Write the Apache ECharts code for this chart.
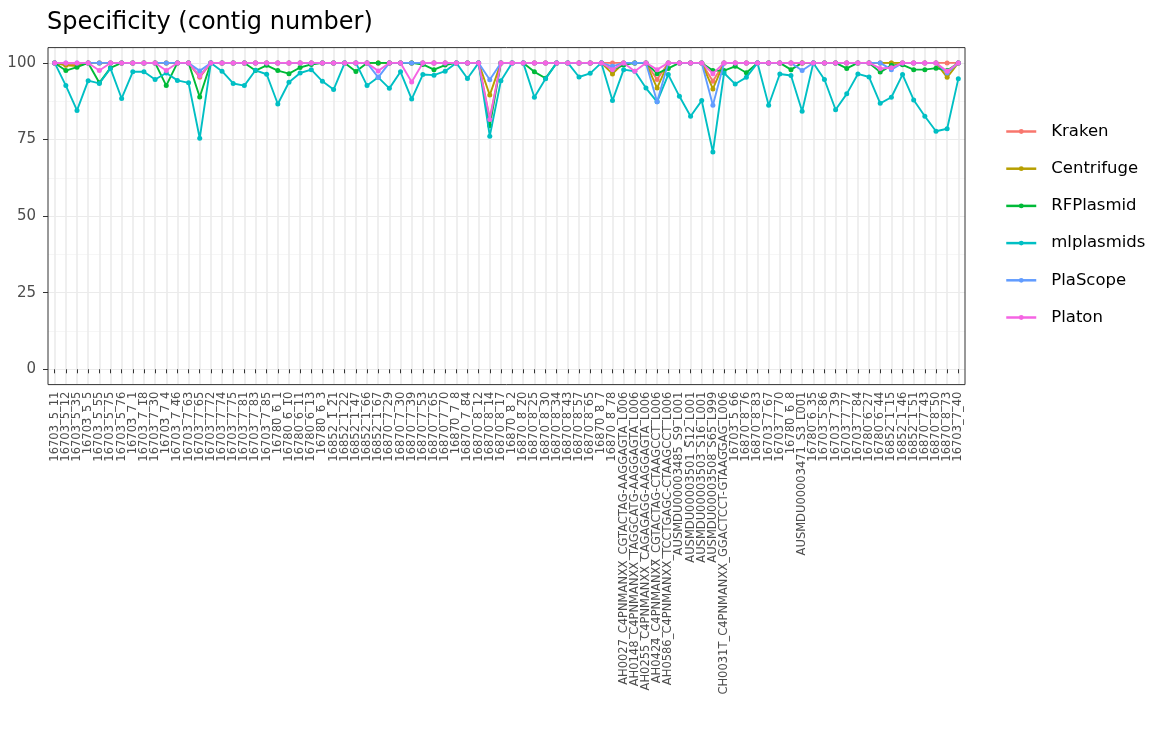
<!DOCTYPE html>
<html>
<head>
<meta charset="utf-8">
<script src="https://cdn.jsdelivr.net/npm/echarts@6/dist/echarts.min.js"></script>
<style>
  html, body { margin: 0; padding: 0; background: #ffffff; }
  #chart { width: 1153px; height: 731px; }
</style>
</head>
<body>
<div id="chart"></div>
<script>
// Sample (assembly) names along the x axis
const samples = [
  '16703_5_11', '16703_5_12', '16703_5_35', '16703_5_5', '16703_5_55', '16703_5_75', '16703_5_76',
  '16703_7_1', '16703_7_18', '16703_7_30', '16703_7_4', '16703_7_46', '16703_7_63', '16703_7_65',
  '16703_7_72', '16703_7_74', '16703_7_75', '16703_7_81', '16703_7_83', '16703_7_85',
  '16780_6_1', '16780_6_10', '16780_6_11', '16780_6_13', '16780_6_3',
  '16852_1_21', '16852_1_22', '16852_1_47', '16852_1_66', '16852_1_67',
  '16870_7_29', '16870_7_30', '16870_7_39', '16870_7_53', '16870_7_65', '16870_7_70', '16870_7_8', '16870_7_84',
  '16870_8_12', '16870_8_14', '16870_8_17', '16870_8_2', '16870_8_20', '16870_8_25', '16870_8_30',
  '16870_8_34', '16870_8_43', '16870_8_57', '16870_8_65', '16870_8_7', '16870_8_78',
  'AH0027_C4PNMANXX_CGTACTAG-AAGGAGTA_L006', 'AH0148_C4PNMANXX_TAGGCATG-AAGGAGTA_L006',
  'AH0255_C4PNMANXX_CAGAGAGG-AAGGAGTA_L006', 'AH0424_C4PNMANXX_CGTACTAG-CTAAGCCT_L006',
  'AH0586_C4PNMANXX_TCCTGAGC-CTAAGCCT_L006',
  'AUSMDU00003485_S9_L001', 'AUSMDU00003501_S12_L001', 'AUSMDU00003503_S16_L001', 'AUSMDU00003508_S65_L999',
  'CH0031T_C4PNMANXX_GGACTCCT-GTAAGGAG_L006',
  '16703_5_66', '16870_8_76', '16870_8_83', '16703_7_67', '16703_7_70', '16780_6_8',
  'AUSMDU00003471_S3_L001', '16780_6_35', '16703_5_86', '16703_7_39', '16703_7_77', '16703_7_84',
  '16780_6_27', '16780_6_44', '16852_1_15', '16852_1_46', '16852_1_51',
  '16870_7_43', '16870_8_50', '16870_8_73', '16703_7_40'
];

// Specificity (%) per tool, one value per sample
const kraken = [
  100, 99.3, 99.3, 100, 100, 100, 100, 100, 100, 100,
  100, 100, 100, 95.3, 100, 100, 100, 100, 100, 100,
  100, 100, 100, 100, 100, 100, 100, 100, 100, 100,
  100, 100, 100, 100, 100, 100, 100, 100, 100, 82,
  100, 100, 100, 100, 100, 100, 100, 100, 100, 100,
  100, 100, 100, 100, 94.6, 100, 100, 100, 100, 94,
  100, 100, 100, 100, 100, 100, 100, 100, 100, 100,
  100, 100, 100, 100, 100, 100, 100, 100, 100, 100,
  100, 100
];
const centrifuge = [
  100, 99.2, 99.0, 100, 100, 100, 100, 100, 100, 100,
  100, 100, 100, 95.7, 100, 100, 100, 100, 100, 100,
  100, 100, 100, 100, 100, 100, 100, 100, 100, 100,
  100, 100, 100, 100, 100, 100, 100, 100, 100, 89.5,
  100, 100, 100, 100, 100, 100, 100, 100, 100, 100,
  96.4, 100, 100, 100, 91.8, 100, 100, 100, 100, 91.5,
  100, 100, 100, 100, 100, 100, 100, 100, 100, 100,
  100, 100, 100, 100, 100, 100, 100, 100, 100, 100,
  95.3, 100
];
const rfplasmid = [
  100, 97.5, 98.6, 100, 93.5, 98.4, 100, 100, 100, 100,
  92.6, 100, 100, 88.9, 100, 100, 100, 100, 97.5, 99.2,
  97.5, 96.5, 98.5, 99.5, 100, 100, 100, 97.2, 100, 100,
  100, 100, 100, 99.5, 97.8, 99.3, 100, 100, 100, 79.5,
  100, 100, 100, 97.1, 95.0, 100, 100, 100, 100, 100,
  97.8, 99.3, 100, 100, 96.5, 98.2, 100, 100, 100, 97.5,
  97.5, 98.9, 96.8, 100, 100, 100, 97.8, 100, 100, 100,
  100, 98.2, 100, 100, 97.0, 99.2, 99.4, 97.8, 97.8, 98.3,
  97.5, 100
];
const mlplasmids = [
  100, 92.6, 84.5, 94.2, 93.3, 98.2, 88.4, 97.1, 97.1, 94.6,
  96.7, 94.3, 93.5, 75.4, 100, 97.3, 93.3, 92.6, 97.6, 96.3,
  86.6, 93.7, 96.7, 97.8, 94.0, 91.3, 100, 100, 92.6, 95.3,
  91.7, 97.1, 88.2, 96.2, 96.0, 97.3, 100, 94.9, 100, 76.1,
  94.2, 100, 100, 88.8, 94.8, 100, 100, 95.4, 96.6, 100,
  87.7, 97.8, 97.3, 91.8, 87.3, 96.2, 89.1, 82.6, 87.7, 70.9,
  96.7, 93.1, 95.3, 100, 86.2, 96.4, 95.9, 84.2, 100, 94.6,
  84.7, 89.9, 96.4, 95.4, 86.8, 88.8, 96.2, 87.9, 82.6, 77.7,
  78.5, 94.8
];
const plascope = [
  100, 100, 100, 100, 100, 100, 100, 100, 100, 100,
  100, 100, 100, 97.4, 100, 100, 100, 100, 100, 100,
  100, 100, 100, 100, 100, 100, 100, 100, 100, 95.3,
  100, 100, 100, 100, 100, 100, 100, 100, 100, 94.5,
  100, 100, 100, 100, 100, 100, 100, 100, 100, 100,
  98.9, 100, 100, 100, 87.3, 100, 100, 100, 100, 86.2,
  100, 100, 100, 100, 100, 100, 100, 97.5, 100, 100,
  100, 100, 100, 100, 100, 97.8, 100, 100, 100, 100,
  96.7, 100
];
const platon = [
  100, 100, 100, 100, 97.5, 100, 100, 100, 100, 100,
  97.5, 100, 100, 95.7, 100, 100, 100, 100, 100, 100,
  100, 100, 100, 100, 100, 100, 100, 100, 100, 97.4,
  100, 100, 93.8, 100, 100, 100, 100, 100, 100, 81.5,
  100, 100, 100, 100, 100, 100, 100, 100, 100, 100,
  97.8, 100, 97.3, 100, 97.8, 100, 100, 100, 100, 96.5,
  100, 100, 100, 100, 100, 100, 100, 100, 100, 100,
  100, 100, 100, 100, 98.2, 98.4, 100, 100, 100, 100,
  97.3, 100
];

// Y axis tick values (percent)
const yTicks = [0, 25, 50, 75, 100];

const toolNames = ['Kraken', 'Centrifuge', 'RFPlasmid', 'mlplasmids', 'PlaScope', 'Platon'];
const toolValues = [kraken, centrifuge, rfplasmid, mlplasmids, plascope, platon];
const toolColors = ['#F8766D', '#B79F00', '#00BA38', '#00BFC4', '#619CFF', '#F564E3'];

// Panel geometry: the frame spans the expanded ranges, the data grid is inset
// by 0.6 category steps horizontally, the tick grid spans 0..100 vertically.
const panel = { left: 48, top: 47.6, width: 917, height: 337 };
const yPad = 5;                                   // range expansion on the value axis
const yMin = yTicks[0], yMax = yTicks[yTicks.length - 1];
const ySpan = (yMax - yMin) + 2 * yPad;
const pxPerUnit = panel.height / ySpan;
const catStep = panel.width / (samples.length - 1 + 1.2);
const inset = 0.6 * catStep;

const font = 'DejaVu Sans';

const chart = echarts.init(document.getElementById('chart'), null, { renderer: 'canvas' });

chart.setOption({
  animation: false,
  backgroundColor: '#ffffff',
  title: {
    text: 'Specificity (contig number)',
    left: 47,
    top: 11,
    padding: 0,
    textStyle: { fontFamily: font, fontSize: 24, fontWeight: 'normal', color: '#000000' }
  },
  legend: {
    orient: 'vertical',
    left: 1005,
    top: 123,
    padding: 0,
    itemWidth: 30,
    itemHeight: 6,
    itemGap: 20.2,
    data: toolNames,
    lineStyle: { width: 2.5 },
    textStyle: {
      fontFamily: font, fontSize: 16.5, color: '#000000',
      lineHeight: 16, padding: [0, 0, 0, 10]
    }
  },
  grid: [
    {   // panel frame
      left: panel.left, top: panel.top, width: panel.width, height: panel.height,
      show: true, borderColor: '#333333', borderWidth: 1, backgroundColor: 'transparent',
      outerBoundsMode: 'none', z: 3
    },
    {   // horizontal grid lines and y ticks (0..100)
      left: panel.left, top: panel.top + yPad * pxPerUnit,
      width: panel.width, height: (yMax - yMin) * pxPerUnit,
      outerBoundsMode: 'none'
    },
    {   // data area with category axis
      left: panel.left + inset, top: panel.top,
      width: panel.width - 2 * inset, height: panel.height,
      outerBoundsMode: 'none'
    }
  ],
  xAxis: [
    { gridIndex: 0, type: 'value', show: false, min: 0, max: 1 },
    { gridIndex: 1, type: 'value', show: false, min: 0, max: 1 },
    {
      gridIndex: 2,
      type: 'category',
      data: samples,
      boundaryGap: false,
      axisLine: { show: false },
      axisTick: { show: true, interval: 0, length: 4, lineStyle: { color: '#333333', width: 1 } },
      axisLabel: {
        rotate: 90, interval: 0, margin: 7,
        fontFamily: font, fontSize: 11.5, color: '#4D4D4D'
      },
      splitLine: { show: true, interval: 0, lineStyle: { color: '#EBEBEB', width: 1.6 } }
    }
  ],
  yAxis: [
    { gridIndex: 0, type: 'value', show: false, min: 0, max: 1 },
    {
      gridIndex: 1,
      type: 'value',
      min: yMin, max: yMax, interval: yTicks[1] - yTicks[0],
      axisLine: { show: false },
      axisTick: { show: true, length: 5, lineStyle: { color: '#333333', width: 1 } },
      axisLabel: { margin: 12, fontFamily: font, fontSize: 15, color: '#4D4D4D' },
      splitLine: { show: true, lineStyle: { color: '#EBEBEB', width: 1.2 } },
      minorTick: { show: false, splitNumber: 2 },
      minorSplitLine: { show: true, lineStyle: { color: '#F2F2F2', width: 0.7 } }
    },
    { gridIndex: 2, type: 'value', show: false, min: yMin - yPad, max: yMax + yPad }
  ],
  series: toolNames.map((name, i) => ({
    name: name,
    type: 'line',
    xAxisIndex: 2,
    yAxisIndex: 2,
    data: toolValues[i],
    symbol: 'circle',
    symbolSize: 5,
    showSymbol: true,
    clip: false,
    color: toolColors[i],
    lineStyle: { width: 1.9, color: toolColors[i] },
    itemStyle: { color: toolColors[i] },
    emphasis: { disabled: true },
    z: 2 + i
  }))
});
</script>
</body>
</html>
